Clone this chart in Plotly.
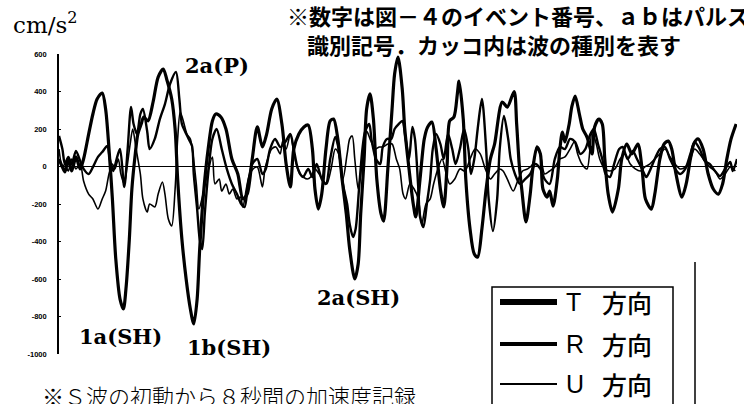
import plotly.graph_objects as go

# Acceleration records (cm/s^2) for the first 8 s after the S-wave onset.
# Vertices read at the turning points of each trace; time in seconds.
t_T = [0.00, 0.04, 0.07, 0.11, 0.15, 0.20, 0.25, 0.29, 0.35, 0.40, 0.45, 0.51, 0.55, 0.59, 0.63, 0.67,
       0.72, 0.76, 0.79, 0.83, 0.86, 0.90, 0.93, 0.97, 1.00, 1.05, 1.11, 1.17, 1.23, 1.27, 1.33, 1.37,
       1.40, 1.45, 1.50, 1.55, 1.59, 1.63, 1.66, 1.71, 1.76, 1.81, 1.85, 1.91, 1.97, 2.04, 2.11, 2.17,
       2.22, 2.28, 2.34, 2.40, 2.45, 2.51, 2.57, 2.63, 2.68, 2.73, 2.77, 2.83, 2.89, 2.94, 2.99, 3.02,
       3.06, 3.10, 3.15, 3.20, 3.24, 3.29, 3.34, 3.39, 3.43, 3.49, 3.53, 3.56, 3.60, 3.63, 3.67, 3.71,
       3.75, 3.80, 3.83, 3.88, 3.93, 3.96, 4.00, 4.05, 4.08, 4.13, 4.18, 4.21, 4.26, 4.31, 4.35, 4.40,
       4.45, 4.50, 4.54, 4.58, 4.61, 4.66, 4.70, 4.72, 4.77, 4.80, 4.85, 4.90, 4.94, 4.99, 5.04, 5.09,
       5.14, 5.23, 5.29, 5.37, 5.40, 5.43, 5.46, 5.51, 5.56, 5.59, 5.64, 5.68, 5.71, 5.76, 5.79, 5.83,
       5.88, 5.91, 5.94, 5.97, 6.02, 6.05, 6.09, 6.14, 6.18, 6.23, 6.27, 6.29, 6.32, 6.37, 6.41, 6.44,
       6.48, 6.53, 6.60, 6.64, 6.70, 6.76, 6.83, 6.88, 6.92, 6.99, 7.03, 7.09, 7.14, 7.19, 7.23, 7.28,
       7.35, 7.40, 7.45, 7.49, 7.54, 7.60, 7.66, 7.72, 7.78, 7.83, 7.88, 7.93, 7.99]
acc_T = [40, -3, -29, 40, -24, 51, -13, 40, 173, 280, 360, 392, 307, 93, -173, -493,
         -707, -760, -653, -387, -120, 67, 173, 227, 264, 243, 344, 477, 520, 467, 360, 200,
         -67, -387, -600, -760, -840, -707, -440, -120, 93, 243, 280, 264, 200, 40, -40, -173,
         -147, 40, 211, 104, 173, 307, 360, 227, 13, -109, 93, 173, 211, 221, 93, -120,
         -227, -147, 93, 243, 253, 147, -67, -253, -440, -600, -520, -253, 40, 307, 387, 253,
         -67, -253, -291, -13, 307, 493, 584, 413, 200, -13, -200, -269, -67, 147, 211, 237,
         93, -120, -216, 13, 243, 264, 387, 456, 253, -67, -333, -467, -483, -333, -120, 40,
         120, 344, 317, 400, 227, 13, -120, -296, -147, -13, 104, 67, -120, -163, -131, -211,
         -67, 93, 184, 131, 227, 317, 376, 280, 200, 157, 93, 67, 211, 253, 227, 40,
         -147, -243, -120, 40, 120, 67, 120, -13, -173, -227, -147, 40, 120, 136, 93, -40,
         -163, -93, 40, 120, 147, 93, -40, -120, -147, -93, 40, 147, 227]

t_R = [0.00, 0.04, 0.07, 0.11, 0.15, 0.20, 0.25, 0.29, 0.35, 0.40, 0.46, 0.51, 0.57, 0.60, 0.64, 0.68,
       0.72, 0.77, 0.81, 0.85, 0.88, 0.92, 0.96, 0.99, 1.04, 1.07, 1.13, 1.19, 1.25, 1.31, 1.38, 1.42,
       1.45, 1.49, 1.53, 1.57, 1.59, 1.63, 1.66, 1.69, 1.72, 1.76, 1.81, 1.86, 1.92, 1.98, 2.04, 2.10,
       2.15, 2.19, 2.23, 2.28, 2.34, 2.40, 2.44, 2.49, 2.55, 2.61, 2.67, 2.73, 2.77, 2.82, 2.88, 2.94,
       2.99, 3.04, 3.10, 3.15, 3.20, 3.26, 3.30, 3.35, 3.40, 3.43, 3.47, 3.50, 3.54, 3.58, 3.61, 3.66,
       3.69, 3.74, 3.79, 3.82, 3.87, 3.92, 3.96, 4.01, 4.05, 4.09, 4.13, 4.17, 4.20, 4.24, 4.26, 4.30,
       4.34, 4.38, 4.41, 4.45, 4.50, 4.54, 4.59, 4.64, 4.68, 4.73, 4.78, 4.83, 4.86, 4.90, 4.94, 4.99,
       5.04, 5.07, 5.12, 5.17, 5.20, 5.25, 5.30, 5.33, 5.38, 5.44, 5.50, 5.56, 5.62, 5.68, 5.73, 5.79,
       5.85, 5.91, 5.97, 6.03, 6.09, 6.15, 6.21, 6.27, 6.31, 6.36, 6.41, 6.45, 6.50, 6.55, 6.61, 6.65,
       6.71, 6.77, 6.82, 6.88, 6.93, 6.97, 7.03, 7.09, 7.15, 7.21, 7.27, 7.33, 7.39, 7.45, 7.50, 7.56,
       7.62, 7.68, 7.74, 7.80, 7.86, 7.92, 7.95, 8.00]
acc_R = [163, 93, 13, 51, 13, 83, 29, -13, -40, -3, 51, 77, 109, 40, -24, 40,
         93, -109, 93, 317, 227, 173, 280, 307, 189, 93, 147, 253, 333, 440, 504, 360,
         227, 184, 147, 109, -40, -227, -387, -440, -253, -40, 147, 200, 93, -13, -93, -147,
         -200, -216, -93, 13, 40, -40, -13, 93, 147, 104, 131, 173, 93, -13, -56, -13,
         -56, 13, -67, -93, 40, 157, 93, -93, -200, -307, -376, -333, -120, 93, 184, 227,
         136, 40, 13, 104, 147, 147, 200, 227, 243, 147, 40, 211, 147, -120, -269, -323,
         -200, -67, 93, 173, 120, 40, 173, 93, 13, 93, 200, 93, -40, 40, 200, 360,
         93, -173, -344, -173, 93, 269, 147, 40, -40, -93, -67, -40, 13, -13, -67, -93,
         40, 104, 93, 147, 131, 67, 93, 173, 200, 120, 40, -40, -56, 13, 93, 104,
         40, 83, 40, -13, -56, -24, 40, 93, 104, 40, -13, -40, -13, 67, 131, 93,
         29, 13, -24, -51, -13, 24, -24, 40]

t_U = [0.00, 0.04, 0.07, 0.11, 0.15, 0.20, 0.25, 0.29, 0.35, 0.40, 0.46, 0.51, 0.55, 0.59, 0.63, 0.66,
       0.70, 0.73, 0.77, 0.80, 0.84, 0.87, 0.91, 0.96, 0.99, 1.04, 1.07, 1.13, 1.17, 1.22, 1.25, 1.29,
       1.33, 1.37, 1.40, 1.43, 1.46, 1.51, 1.55, 1.58, 1.62, 1.65, 1.70, 1.75, 1.81, 1.84, 1.89, 1.92,
       1.97, 2.01, 2.05, 2.10, 2.14, 2.17, 2.21, 2.24, 2.29, 2.34, 2.40, 2.43, 2.47, 2.51, 2.56, 2.61,
       2.64, 2.68, 2.73, 2.76, 2.80, 2.84, 2.88, 2.93, 2.97, 3.02, 3.07, 3.12, 3.16, 3.21, 3.26, 3.30,
       3.35, 3.40, 3.43, 3.46, 3.49, 3.53, 3.56, 3.60, 3.63, 3.68, 3.73, 3.78, 3.82, 3.88, 3.93, 3.98,
       4.02, 4.06, 4.09, 4.14, 4.19, 4.24, 4.28, 4.33, 4.38, 4.42, 4.47, 4.52, 4.57, 4.61, 4.67, 4.73,
       4.79, 4.85, 4.91, 4.97, 5.03, 5.09, 5.14, 5.20, 5.24, 5.29, 5.36, 5.42, 5.47, 5.53, 5.59, 5.64,
       5.69, 5.73, 5.79, 5.85, 5.91, 5.97, 6.03, 6.08, 6.12, 6.17, 6.23, 6.29, 6.34, 6.38, 6.44, 6.50,
       6.56, 6.62, 6.68, 6.74, 6.80, 6.86, 6.91, 6.97, 7.03, 7.09, 7.15, 7.21, 7.27, 7.33, 7.39, 7.45,
       7.50, 7.56, 7.62, 7.68, 7.74, 7.80, 7.86, 7.92, 7.98]
acc_U = [93, -3, 13, -24, 40, -13, 13, -77, -147, -173, -227, -173, -131, -40, 13, -13,
         40, -40, -93, -13, 120, 200, 93, -40, -173, -243, -200, -216, -147, -83, -147, -280,
         -317, -120, 147, 291, 253, 173, 147, 67, -93, -227, -147, -40, 51, -93, -67, -131,
         -93, -147, -120, -173, -163, -216, -120, -56, -13, -3, -109, -13, 51, 93, 104, 67,
         136, 93, 173, 104, 13, -40, -56, -67, -56, -13, -40, -77, -93, -13, 93, 67,
         -67, 67, 147, 163, 40, -120, -40, 93, 189, 136, 93, 104, 104, 120, 120, 40,
         -13, -147, -173, -93, -120, -173, -307, -200, -173, -93, -13, 40, -40, -93, -67, -13,
         -24, 40, 93, 67, -13, -67, -40, -13, -24, -67, -131, -67, -24, -13, 13, 109,
         40, -40, -24, -3, 40, 51, 93, 131, 67, 13, -13, 184, 120, 40, -13, -24,
         -13, 40, 67, 13, -13, -24, -3, 13, 40, 67, 93, 51, 13, -13, -3, 40,
         93, 67, 29, -3, -24, -67, -40, -3, -24]

y_ticks = [600, 400, 200, 0, -200, -400, -600, -800, -1000]

series = [
    ("U 方向", t_U, acc_U, 1.6),
    ("R 方向", t_R, acc_R, 2.4),
    ("T 方向", t_T, acc_T, 3.2),
]

fig = go.Figure()
for name, t, a, w in series:
    fig.add_trace(go.Scatter(
        x=t, y=a, mode="lines", name=name, showlegend=False,
        line=dict(color="black", width=w, shape="spline", smoothing=0.8),
        hoverinfo="skip",
    ))

W, H = 744, 404
ML, MR, MT, MB = 59, 7, 54, 50
PW, PH = W - ML - MR, H - MT - MB


def px(x):
    return (x - ML) / PW


def py(y):
    return (H - MB - y) / PH


fig.update_layout(
    width=W, height=H,
    margin=dict(l=ML, r=MR, t=MT, b=MB, pad=0),
    paper_bgcolor="white", plot_bgcolor="white",
    xaxis=dict(range=[0, 8], visible=False, showgrid=False, zeroline=False),
    yaxis=dict(
        range=[-1000, 600], tickvals=y_ticks, ticktext=[str(v) for v in y_ticks],
        showgrid=False, showline=True, linecolor="black", linewidth=1.6,
        zeroline=True, zerolinecolor="black", zerolinewidth=1.4,
        ticks="inside", ticklen=2, tickcolor="black", tickwidth=1,
        ticklabelstandoff=9,
        tickfont=dict(family="Liberation Sans", size=7.5, color="black", weight="bold"),
    ),
)

serif = "DejaVu Serif"
jp = "Noto Sans CJK JP"
ann = []

# Unit label
ann.append(dict(x=px(11), y=py(23), xref="paper", yref="paper", xanchor="left", yanchor="middle",
                text="cm/s<sup>2</sup>", showarrow=False,
                font=dict(family=serif, size=23, color="black")))

# Event / pulse labels
for text, tx, ty in [("2a(P)", 1.864, 541), ("1a(SH)", 0.72, -905),
                     ("1b(SH)", 2.006, -965), ("2a(SH)", 3.53, -700)]:
    ann.append(dict(x=tx, y=ty, xref="x", yref="y", xanchor="center", yanchor="middle",
                    text=text, showarrow=False,
                    font=dict(family=serif, size=21, color="black", weight="bold")))

# Notes
ann.append(dict(x=px(285), y=py(15), xref="paper", yref="paper", xanchor="left", yanchor="middle",
                text="※数字は図－４のイベント番号、ａｂはパルス", showarrow=False,
                font=dict(family=jp, size=22, color="black", weight="bold")))
ann.append(dict(x=px(305), y=py(44), xref="paper", yref="paper", xanchor="left", yanchor="middle",
                text="識別記号．カッコ内は波の種別を表す", showarrow=False,
                font=dict(family=jp, size=22, color="black", weight="bold")))
ann.append(dict(x=px(40), y=py(395), xref="paper", yref="paper", xanchor="left", yanchor="middle",
                text="※Ｓ波の初動から８秒間の加速度記録", showarrow=False,
                font=dict(family=jp, size=22, color="black", weight=300)))

# Legend entries
shapes = []
for (label, y, lw) in [("T", 302, 6), ("R", 344, 4), ("U", 384, 2)]:
    shapes.append(dict(type="line", xref="paper", yref="paper",
                       x0=px(500), x1=px(557), y0=py(y), y1=py(y),
                       line=dict(color="black", width=lw)))
    ann.append(dict(x=px(564), y=py(y), xref="paper", yref="paper", xanchor="left", yanchor="middle",
                    text=label, showarrow=False,
                    font=dict(family="Liberation Sans", size=25, color="black")))
    ann.append(dict(x=px(600), y=py(y), xref="paper", yref="paper", xanchor="left", yanchor="middle",
                    text="方向", showarrow=False,
                    font=dict(family=jp, size=25, color="black", weight=500)))

shapes.append(dict(type="rect", xref="paper", yref="paper",
                   x0=px(492), x1=px(673), y0=py(287), y1=py(412),
                   line=dict(color="black", width=1.5)))
shapes.append(dict(type="line", xref="paper", yref="paper",
                   x0=px(695), x1=px(695), y0=py(262), y1=py(410),
                   line=dict(color="black", width=1.5)))

fig.update_layout(annotations=ann, shapes=shapes)
fig.write_html("out.html")
